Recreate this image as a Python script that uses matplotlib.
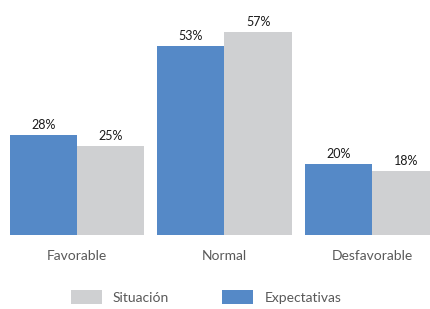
import matplotlib.pyplot as plt
import numpy as np

# datos
categorias = ["Favorable", "Normal", "Desfavorable"]
expectativas = [28, 53, 20]
situacion = [25, 57, 18]
etiquetas_serie = ["Situación", "Expectativas"]

azul = "#5589C7"
gris = "#CFD0D2"

plt.rcParams['font.family'] = ['Lato', 'DejaVu Sans']

fig = plt.figure(figsize=(4.31, 3.09), dpi=100)
ax = fig.add_axes([0, 74 / 309, 1, 235 / 309])

x = np.arange(len(categorias))
w = 0.457
b1 = ax.bar(x - w / 2, expectativas, w, color=azul)
b2 = ax.bar(x + w / 2, situacion, w, color=gris)

for bars, vals in [(b1, expectativas), (b2, situacion)]:
    for r, v in zip(bars, vals):
        ax.annotate(f"{v}%", (r.get_x() + r.get_width() / 2, v),
                    xytext=(0, 3), textcoords="offset points",
                    ha="center", va="bottom", fontsize=9, color="#1a1a1a")

ax.set_xlim(-0.522, 2.4)
ax.set_ylim(0, 66)
ax.set_xticks(x)
ax.set_xticklabels(categorias, fontsize=10, color="#595959")
ax.tick_params(axis="x", length=0, pad=11)
ax.set_yticks([])
for s in ax.spines.values():
    s.set_visible(False)

fig.legend([b2, b1], etiquetas_serie, loc="center left",
           bbox_to_anchor=(58 / 431, 1 - 297 / 309), ncol=2, frameon=False,
           fontsize=10, labelcolor="#595959", handlelength=2.25,
           handleheight=1.1, handletextpad=0.8, columnspacing=3.8)

fig.savefig("out.png", dpi=100)
